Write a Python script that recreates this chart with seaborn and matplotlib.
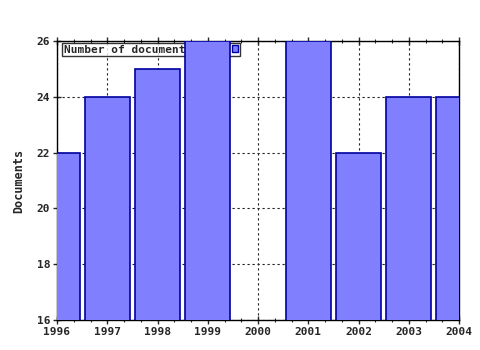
import numpy as np
import pandas as pd
import matplotlib
matplotlib.use("Agg")
import matplotlib.pyplot as plt
from matplotlib.ticker import MultipleLocator
import seaborn as sns

years = [1996, 1997, 1998, 1999, 2000, 2001, 2002, 2003, 2004]
documents = [22, 24, 25, 26, 0, 26, 22, 24, 24]
series_label = "Number of documents"

sns.set_style("white")
plt.rcParams['font.family'] = ['DejaVu Sans Mono', 'DejaVu Sans']
plt.rcParams['font.weight'] = 'bold'

df = pd.DataFrame({"year": years, "docs": documents})

fig = plt.figure(figsize=(4.8, 3.5), dpi=100)
ax = fig.add_axes([57/480, 1 - 320/350, (459-57)/480, (320-41)/350])

sns.barplot(data=df, x="year", y="docs", native_scale=True, width=0.9,
            color="#8080FF", saturation=1, edgecolor="#0000A0", linewidth=1.2,
            label=series_label, ax=ax, zorder=3)

ax.set_xlim(1996, 2004)
ax.set_ylim(16, 26)
ax.xaxis.set_minor_locator(MultipleLocator(1/3))
ax.set_xticks(years)
ax.set_xticklabels([str(y) for y in years], fontsize=8, fontweight='bold')
ax.set_yticks([16, 18, 20, 22, 24, 26])
ax.set_yticklabels(["16", "18", "20", "22", "24", "26"], fontsize=8, fontweight='bold')
ax.set_xlabel("")
ax.set_ylabel("Documents", fontsize=8.5, fontweight='bold', labelpad=8)

ax.grid(True, which='major', color='#202020', linestyle=(0, (2, 2.5)), linewidth=0.8, zorder=0)
ax.set_axisbelow(True)
for s in ax.spines.values():
    s.set_color('black')
    s.set_linewidth(1)
ax.tick_params(axis='both', which='major', direction='inout', length=6, width=1,
               top=True, bottom=True, left=True, right=False, pad=2)
ax.tick_params(axis='x', which='minor', direction='inout', length=3, width=0.8,
               top=True, bottom=True)

leg = ax.legend(loc='upper left', bbox_to_anchor=(5/402, 1 - 2/279), frameon=True,
                fancybox=False, markerfirst=False, fontsize=8, borderpad=0.15,
                handlelength=0.55, handleheight=0.55, handletextpad=3.6,
                borderaxespad=0)
leg.get_frame().set_edgecolor('black')
leg.get_frame().set_linewidth(1)
for h in leg.legend_handles:
    h.set_edgecolor('#0000A0')
    h.set_linewidth(1)
leg.set_zorder(2)

fig.savefig("out.png", dpi=100)
